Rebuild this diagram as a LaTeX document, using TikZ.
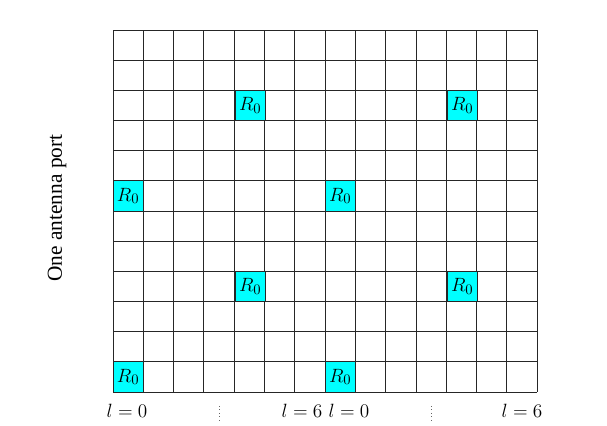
\documentclass[tikz,border=0pt]{standalone}
\usepackage{fontspec}
\setmainfont{Liberation Serif}
\usetikzlibrary{positioning}
\definecolor{aqua}{RGB}{0,255,255}

\begin{document}
\begin{tikzpicture}[
  x=0.75pt, y=-0.75pt,
  gridline/.style={draw=black!85, line width=0.6pt},
  refcell/.style={rectangle, draw=black!85, line width=0.6pt, fill=aqua, minimum width=22.7pt, minimum height=22.6pt, inner sep=0pt, font=\fontsize{15}{17}\selectfont},
  lbl/.style={font=\fontsize{15}{18}\selectfont, inner sep=1pt},
  sep/.style={draw=black!60, line width=0.6pt, dotted}
]
\useasboundingbox (0,0) rectangle (607,425);

% 14 subcarrier columns x 12 rows
\foreach \i in {0,...,14} \draw[gridline] (113+\i*30.29,30) -- (113+\i*30.29,392);
\foreach \j in {0,...,12} \draw[gridline] (113,30+\j*30.17) -- (537,30+\j*30.17);

\node[refcell] (r1) at (250.3, 105.4) {$R_0$};
\node[refcell] (r2) at (462.3, 105.4) {$R_0$};
\node[refcell] (r3) at (128.1, 195.9) {$R_0$};
\node[refcell] (r4) at (340.2, 195.9) {$R_0$};
\node[refcell] (r5) at (250.3, 286.4) {$R_0$};
\node[refcell] (r6) at (462.3, 286.4) {$R_0$};
\node[refcell] (r7) at (128.1, 376.9) {$R_0$};
\node[refcell] (r8) at (340.2, 376.9) {$R_0$};

\node[lbl, rotate=90, font=\fontsize{16}{19}\selectfont] (port) at (57, 208) {One antenna port};

\node[lbl] (l0a) at (127, 411) {$l=0$};
\node[lbl] (l6a) at (302, 411) {$l=6$};
\node[lbl] (l0b) at (349, 411) {$l=0$};
\node[lbl] (l6b) at (522, 411) {$l=6$};

\coordinate (d1a) at (219.5, 406);
\coordinate (d1b) at (219.5, 420);
\coordinate (d2a) at (431, 406);
\coordinate (d2b) at (431, 420);
\draw[sep] (d1a) -- (d1b);
\draw[sep] (d2a) -- (d2b);

\end{tikzpicture}
\end{document}
